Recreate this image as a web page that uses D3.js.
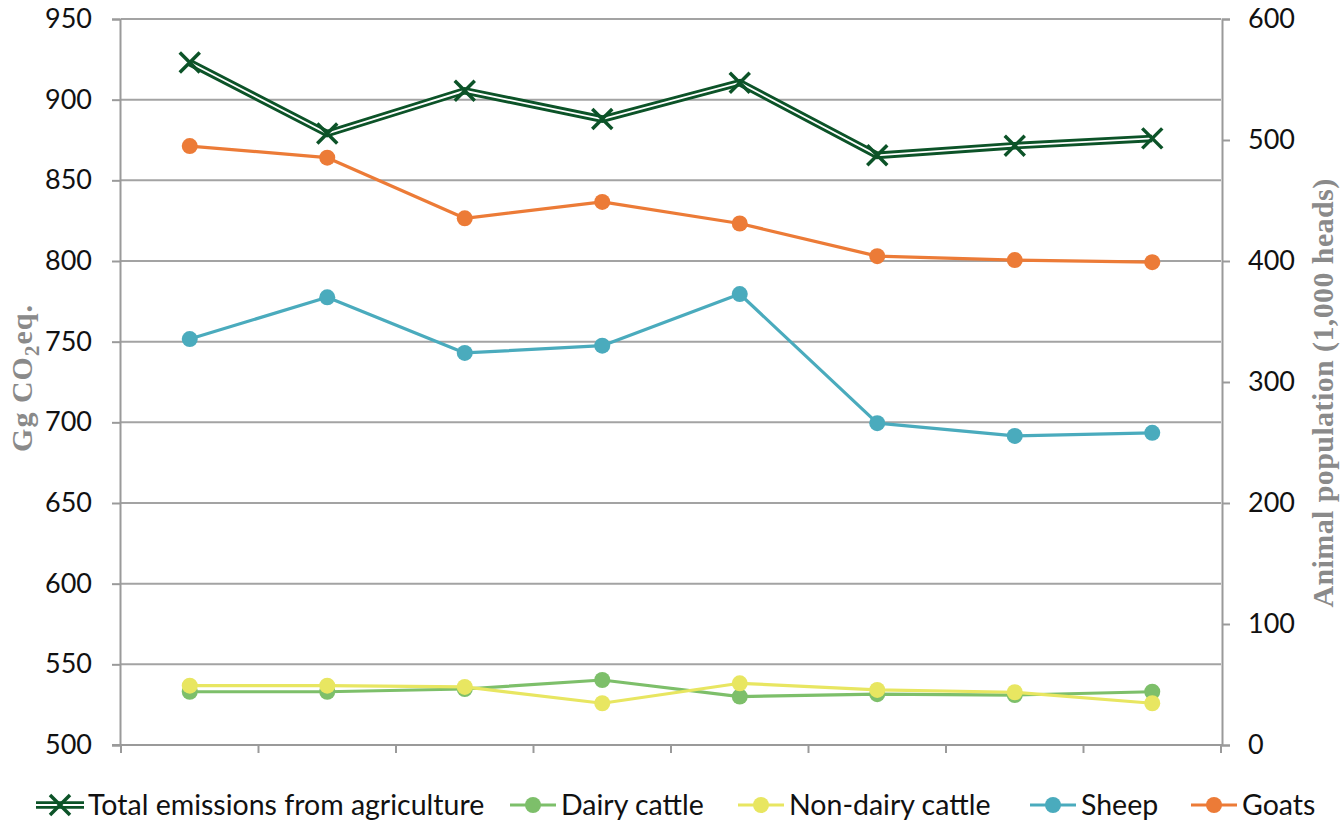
<!DOCTYPE html>
<html>
<head>
<meta charset="utf-8">
<script src="https://cdn.jsdelivr.net/npm/d3@7"></script>
<style>
  html, body { margin: 0; padding: 0; background: #fff; }
  svg { display: block; }
  .tick-label { font-family: Lato, "Open Sans", sans-serif; font-size: 27px; fill: #111; }
  .legend-label { font-family: Lato, "Open Sans", sans-serif; font-size: 28.5px; fill: #111; }
  .axis-title { font-family: "Liberation Serif", "DejaVu Serif", serif; font-weight: bold; font-size: 30px; fill: #8a8a8a; }
</style>
</head>
<body>
<svg id="chart" width="1341" height="826"></svg>
<script>
// Eight unlabelled periods along the x axis
const periods = ["1", "2", "3", "4", "5", "6", "7", "8"];

// Emissions (Gg CO2 eq., left axis)
const totalEmissions = [923, 879, 905.5, 888, 910.5, 865.5, 871.5, 876];

// Animal population (1,000 heads, right axis)
const dairyCattle    = [44, 44, 46.3, 53.7, 40, 42, 41.3, 44];
const nonDairyCattle = [49, 49, 48, 34.5, 51, 45.5, 43.6, 34.5];
const sheep          = [335.5, 370, 324, 330, 372.7, 266, 255.4, 258];
const goats          = [495, 485.4, 435.3, 448.8, 431, 404, 400.8, 399];

const leftTicks  = [500, 550, 600, 650, 700, 750, 800, 850, 900, 950];
const rightTicks = [0, 100, 200, 300, 400, 500, 600];

const legendNames = ["Total emissions from agriculture", "Dairy cattle", "Non-dairy cattle", "Sheep", "Goats"];

// Layout
const plot = { left: 121, right: 1221, top: 19, bottom: 745 };
const gridColor = "#a3a3a3";
const axisColor = "#9a9a9a";
const colors = {
  total: "#0c5328",
  dairy: "#7dbf6a",
  nonDairy: "#e8e661",
  sheep: "#4aabbd",
  goats: "#ec7b37"
};

const svg = d3.select("#chart");

const x = d3.scaleBand().domain(periods).range([plot.left, plot.right]);
const yLeft = d3.scaleLinear().domain([500, 950]).range([plot.bottom, plot.top]);
const yRight = d3.scaleLinear().domain([0, 600]).range([plot.bottom, plot.top]);
const cx = d => x(d) + x.bandwidth() / 2;

// Horizontal gridlines at left-axis ticks
svg.append("g")
  .selectAll("line")
  .data(leftTicks.filter(t => t !== 500))
  .join("line")
  .attr("x1", plot.left).attr("x2", plot.right)
  .attr("y1", d => yLeft(d)).attr("y2", d => yLeft(d))
  .attr("stroke", gridColor).attr("stroke-width", 2);

// Left axis
const leftAxis = svg.append("g")
  .attr("transform", `translate(${plot.left - 1},0)`)
  .call(d3.axisLeft(yLeft).tickValues(leftTicks).tickSize(8).tickPadding(20).tickFormat(d3.format("d")));
leftAxis.select(".domain").attr("stroke", axisColor).attr("stroke-width", 2);
leftAxis.selectAll(".tick line").attr("stroke", axisColor).attr("stroke-width", 2);
leftAxis.selectAll(".tick text").attr("class", "tick-label").attr("font-size", null).attr("font-family", null).attr("fill", null);
leftAxis.attr("font-size", null).attr("font-family", null);

// Right axis
const rightAxis = svg.append("g")
  .attr("transform", `translate(${plot.right + 1},0)`)
  .call(d3.axisRight(yRight).tickValues(rightTicks).tickSize(8).tickPadding(18).tickFormat(d3.format("d")));
rightAxis.select(".domain").attr("stroke", axisColor).attr("stroke-width", 2);
rightAxis.selectAll(".tick line").attr("stroke", axisColor).attr("stroke-width", 2);
rightAxis.selectAll(".tick text").attr("class", "tick-label").attr("font-size", null).attr("font-family", null).attr("fill", null);
rightAxis.attr("font-size", null).attr("font-family", null);

// Bottom axis: line with ticks at the category boundaries, no labels
const bottom = svg.append("g");
bottom.append("line")
  .attr("x1", plot.left - 9).attr("x2", plot.right + 1)
  .attr("y1", plot.bottom).attr("y2", plot.bottom)
  .attr("stroke", axisColor).attr("stroke-width", 2);
const boundaries = periods.map(p => x(p)).concat([x(periods[periods.length - 1]) + x.bandwidth()]);
bottom.selectAll("line.xt")
  .data(boundaries)
  .join("line")
  .attr("class", "xt")
  .attr("x1", d => d).attr("x2", d => d)
  .attr("y1", plot.bottom).attr("y2", plot.bottom + 8)
  .attr("stroke", axisColor).attr("stroke-width", 2);

// Axis titles
const leftTitle = svg.append("text")
  .attr("class", "axis-title")
  .attr("text-anchor", "middle")
  .attr("font-size", "33px")
  .attr("letter-spacing", "1px")
  .attr("transform", `translate(32,378) rotate(-90)`);
leftTitle.append("tspan").text("Gg CO");
leftTitle.append("tspan").attr("font-size", "21px").attr("dy", 7).text("2");
leftTitle.append("tspan").attr("dy", -7).text("eq.");

svg.append("text")
  .attr("class", "axis-title")
  .attr("text-anchor", "middle")
  .attr("letter-spacing", "0.4px")
  .attr("transform", `translate(1333,393) rotate(-90)`)
  .text("Animal population (1,000 heads)");

// Series drawn with circle markers on the right axis
const lineRight = d3.line().x((d, i) => cx(periods[i])).y(d => yRight(d));
const lineLeft = d3.line().x((d, i) => cx(periods[i])).y(d => yLeft(d));

const circleSeries = [
  { values: dairyCattle, color: colors.dairy },
  { values: nonDairyCattle, color: colors.nonDairy },
  { values: sheep, color: colors.sheep },
  { values: goats, color: colors.goats }
];

// Total emissions: double line with X markers
const totalG = svg.append("g");
totalG.append("path")
  .attr("d", lineLeft(totalEmissions))
  .attr("fill", "none").attr("stroke", colors.total).attr("stroke-width", 7.5)
  .attr("stroke-linejoin", "miter");
totalG.append("path")
  .attr("d", lineLeft(totalEmissions))
  .attr("fill", "none").attr("stroke", "#fff").attr("stroke-width", 1.8)
  .attr("stroke-linejoin", "miter");

const xMark = (g, px, py, s) => {
  g.append("path")
    .attr("d", `M${px - s},${py - s}L${px + s},${py + s}M${px - s},${py + s}L${px + s},${py - s}`)
    .attr("stroke", colors.total).attr("stroke-width", 3.5).attr("fill", "none");
};
totalEmissions.forEach((v, i) => xMark(totalG, cx(periods[i]), yLeft(v), 10));

circleSeries.forEach(s => {
  const g = svg.append("g");
  g.append("path")
    .attr("d", lineRight(s.values))
    .attr("fill", "none").attr("stroke", s.color).attr("stroke-width", 3.2)
    .attr("stroke-linejoin", "round");
  g.selectAll("circle")
    .data(s.values)
    .join("circle")
    .attr("cx", (d, i) => cx(periods[i]))
    .attr("cy", d => yRight(d))
    .attr("r", 8)
    .attr("fill", s.color);
});

// Legend
const legendY = 805;
const legendX = [36, 510, 738, 1030, 1191];
const legendColors = [colors.total, colors.dairy, colors.nonDairy, colors.sheep, colors.goats];
legendNames.forEach((name, i) => {
  const g = svg.append("g").attr("transform", `translate(${legendX[i]},${legendY})`);
  if (i === 0) {
    g.append("line").attr("x1", 0).attr("x2", 48).attr("y1", 0).attr("y2", 0)
      .attr("stroke", colors.total).attr("stroke-width", 7.5);
    g.append("line").attr("x1", 0).attr("x2", 48).attr("y1", 0).attr("y2", 0)
      .attr("stroke", "#fff").attr("stroke-width", 1.8);
    xMark(g, 24, 0, 10);
    g.append("text").attr("class", "legend-label").attr("x", 52).attr("y", 10).text(name);
  } else {
    g.append("line").attr("x1", 0).attr("x2", 46).attr("y1", 0).attr("y2", 0)
      .attr("stroke", legendColors[i]).attr("stroke-width", 3.2);
    g.append("circle").attr("cx", 23).attr("cy", 0).attr("r", 8).attr("fill", legendColors[i]);
    g.append("text").attr("class", "legend-label").attr("x", 51).attr("y", 10).text(name);
  }
});
</script>
</body>
</html>
